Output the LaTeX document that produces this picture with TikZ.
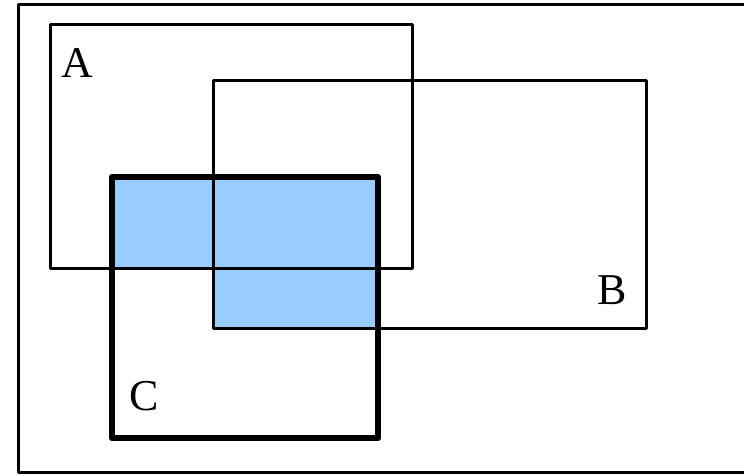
\documentclass[tikz,border=0pt]{standalone}
\usepackage{fontspec}
\setmainfont{Liberation Serif}
\begin{document}
\begin{tikzpicture}[x=1pt,y=-1pt,
  setbox/.style={draw=black,line width=3pt,line join=round},
  thickbox/.style={draw=black,line width=6.5pt,line join=round},
  lab/.style={font=\fontsize{44}{44}\selectfont,inner sep=0pt}]
\useasboundingbox (0,0) rectangle (744,474);
\clip (0,0) rectangle (744,474);
\fill[fill={rgb,255:red,153;green,204;blue,255}] (112,177) rectangle (378,268);
\fill[fill={rgb,255:red,153;green,204;blue,255}] (213,177) rectangle (378,328);
\draw[setbox] (18,4) rectangle (760,472);
\draw[setbox] (50,24) rectangle (412,268);
\draw[setbox] (213,80) rectangle (646,328);
\draw[thickbox] (112,177) rectangle (378,438);
\node[lab] (la) at (77,63) {A};
\node[lab] (lb) at (612,290) {B};
\node[lab] (lc) at (144,396) {C};
\end{tikzpicture}
\end{document}
